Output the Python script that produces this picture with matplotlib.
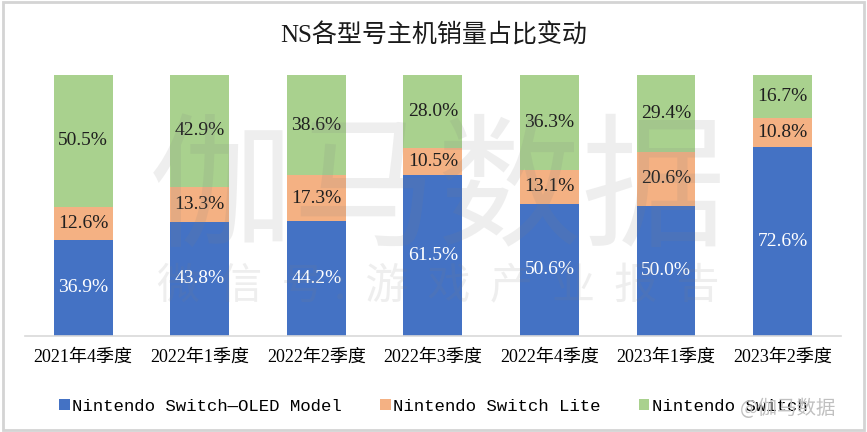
import matplotlib
matplotlib.use("Agg")
import matplotlib.pyplot as plt
from matplotlib.patches import Rectangle, Patch
import numpy as np

categories = ["2021年4季度", "2022年1季度", "2022年2季度", "2022年3季度",
              "2022年4季度", "2023年1季度", "2023年2季度"]
oled = [36.9, 43.8, 44.2, 61.5, 50.6, 50.0, 72.6]
lite = [12.6, 13.3, 17.3, 10.5, 13.1, 20.6, 10.8]
switch = [50.5, 42.9, 38.6, 28.0, 36.3, 29.4, 16.7]
series_names = ["Nintendo Switch—OLED Model", "Nintendo Switch Lite", "Nintendo Switch"]
colors = ["#4472C4", "#F4B183", "#A9D18E"]
label_colors = ["white", "#1f1f1f", "#1f1f1f"]

serif_cjk = ["Liberation Serif", "Noto Sans CJK SC"]
mono_cjk = ["Liberation Mono", "Noto Sans CJK SC"]

fig = plt.figure(figsize=(8.67, 4.32), dpi=100)
ax = fig.add_axes([0.0288, 0.2222, 0.941, 0.6042])

x = np.arange(len(categories))
bottom = np.zeros(len(categories))
for vals, col, lc in zip([oled, lite, switch], colors, label_colors):
    vals = np.array(vals)
    ax.bar(x, vals, width=0.506, bottom=bottom, color=col, zorder=2)
    for xi, b, v in zip(x, bottom, vals):
        ax.text(xi, b + v / 2, f"{v:.1f}%", ha="center", va="center",
                color=lc, fontsize=14, family=serif_cjk, zorder=4)
    bottom += vals

ax.set_xlim(-0.5, 6.5)
ax.set_ylim(0, 100)
ax.set_xticks(x)
ax.set_xticklabels(categories, family=serif_cjk, fontsize=13)
ax.tick_params(axis="x", length=0, pad=9)
ax.set_yticks([])
for s in ["left", "right", "top"]:
    ax.spines[s].set_visible(False)
ax.spines["bottom"].set_color("#d9d9d9")
ax.spines["bottom"].set_linewidth(1.2)

# watermarks
fig.text(0.505, 0.55, "伽马数据", ha="center", va="center", fontsize=104,
         family="Noto Sans CJK SC", color="#808080", alpha=0.13, zorder=10)
fig.text(0.505, 0.335, "微  信  号 :  游  戏  产  业  报  告", ha="center", va="center",
         fontsize=31, family="Noto Sans CJK SC", color="#808080", alpha=0.13, zorder=10)

fig.text(0.5, 0.918, "NS各型号主机销量占比变动", ha="center", va="center",
         fontsize=18, family=serif_cjk, color="#1a1a1a")

handles = [Patch(facecolor=c, edgecolor="none") for c in colors]
leg = fig.legend(handles, series_names, loc="center", bbox_to_anchor=(0.5, 0.06),
                 ncol=3, frameon=False, handlelength=0.6, handleheight=0.6,
                 handletextpad=0.15, columnspacing=2.2,
                 prop={"family": mono_cjk, "size": 12.5})

fig.text(0.965, 0.055, "@伽马数据", ha="right", va="center", fontsize=14,
         family="Noto Sans CJK SC", color="#c0c0c0", zorder=12)

fig.patches.append(Rectangle((0.004, 0.005), 0.992, 0.99, transform=fig.transFigure,
                             fill=False, edgecolor="#d4d4d4", linewidth=2))

fig.savefig("out.png", dpi=100)
